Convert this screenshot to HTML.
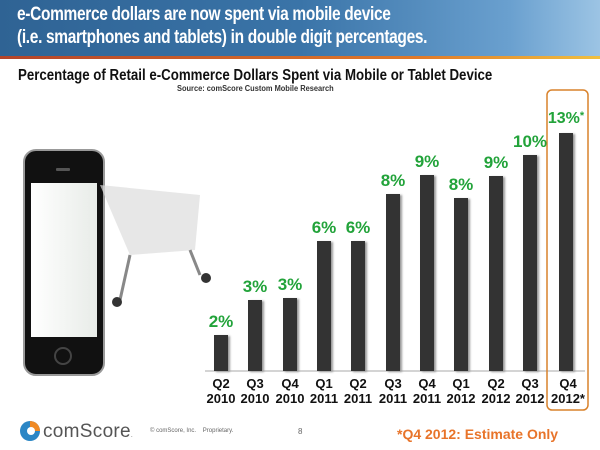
<!DOCTYPE html>
<html><head><meta charset="utf-8"><style>
body{margin:0;width:600px;height:450px;overflow:hidden;background:#fff;font-family:"Liberation Sans",sans-serif;position:relative}
.hdr{position:absolute;left:0;top:0;width:600px;height:56px;background:linear-gradient(90deg,#2f6394 0%,#3a74a8 50%,#6aa0cf 85%,#9cc4e4 100%)}
.hdr div{position:absolute;left:17px;color:#fff;font-weight:bold;font-size:19px;letter-spacing:-0.4px;white-space:nowrap;transform:scaleX(0.815);transform-origin:0 0}
.line{position:absolute;left:0;top:56px;width:600px;height:3px;background:linear-gradient(90deg,#b4442a,#e07a2a 70%,#f0c040)}
.bar{position:absolute;width:14px;background:#333;box-shadow:2px 1px 2px #999}
.lbl{position:absolute;width:50px;text-align:center;color:#22a33a;font-weight:bold;font-size:17px}
.xl{position:absolute;top:376px;width:40px;text-align:center;font-weight:bold;font-size:13px;line-height:15px;color:#111}
</style></head><body>
<div class="hdr"><div style="top:4px">e-Commerce dollars are now spent via mobile device</div><div style="top:27px">(i.e. smartphones and tablets) in double digit percentages.</div></div>
<div class="line"></div>
<div style="position:absolute;left:18px;top:67px;font-size:16px;font-weight:bold;color:#111;white-space:nowrap;transform:scaleX(0.83);transform-origin:0 0">Percentage of Retail e-Commerce Dollars Spent via Mobile or Tablet Device</div>
<div style="position:absolute;left:177px;top:84px;font-size:8px;font-weight:bold;color:#333;white-space:nowrap;transform:scaleX(0.93);transform-origin:0 0">Source: comScore Custom Mobile Research</div>
<svg style="position:absolute;left:0;top:0" width="600" height="450">
<defs><linearGradient id="sc" x1="0" x2="1"><stop offset="0" stop-color="#fff"/><stop offset="1" stop-color="#e8ece8"/></linearGradient></defs>
<rect x="24" y="150" width="80" height="225" rx="12" fill="#111" stroke="#999" stroke-width="2"/>
<rect x="31" y="183" width="66" height="154" fill="url(#sc)"/>
<circle cx="63" cy="356" r="8" fill="none" stroke="#444" stroke-width="2"/>
<rect x="56" y="168" width="14" height="3" rx="1" fill="#555"/>
<path d="M100 185 L200 195 L195 250 L130 255 Z" fill="#ddd" opacity=".7"/>
<path d="M130 255 L120 300 M190 250 L200 275" stroke="#888" stroke-width="3"/>
<circle cx="117" cy="302" r="5" fill="#333"/><circle cx="206" cy="278" r="5" fill="#333"/>
<line x1="205" y1="371" x2="585" y2="371" stroke="#aaa"/>
<rect x="547" y="90" width="41" height="320" rx="5" fill="none" stroke="#d9822b" stroke-width="1.5"/>
<circle cx="30" cy="431" r="10" fill="#2b86c5"/><path d="M30 421 A10 10 0 0 1 40 431 L34 431 A4 4 0 0 0 30 427 Z" fill="#f08a24"/><circle cx="31" cy="431" r="4" fill="#fff"/>
</svg>
<div class="bar" style="left:214px;top:335px;height:36px"></div>
<div class="bar" style="left:248px;top:300px;height:71px"></div>
<div class="bar" style="left:283px;top:298px;height:73px"></div>
<div class="bar" style="left:317px;top:241px;height:130px"></div>
<div class="bar" style="left:351px;top:241px;height:130px"></div>
<div class="bar" style="left:386px;top:194px;height:177px"></div>
<div class="bar" style="left:420px;top:175px;height:196px"></div>
<div class="bar" style="left:454px;top:198px;height:173px"></div>
<div class="bar" style="left:489px;top:176px;height:195px"></div>
<div class="bar" style="left:523px;top:155px;height:216px"></div>
<div class="bar" style="left:559px;top:133px;height:238px"></div>
<div class="lbl" style="left:196px;top:312px">2%</div>
<div class="lbl" style="left:230px;top:277px">3%</div>
<div class="lbl" style="left:265px;top:275px">3%</div>
<div class="lbl" style="left:299px;top:218px">6%</div>
<div class="lbl" style="left:333px;top:218px">6%</div>
<div class="lbl" style="left:368px;top:171px">8%</div>
<div class="lbl" style="left:402px;top:152px">9%</div>
<div class="lbl" style="left:436px;top:175px">8%</div>
<div class="lbl" style="left:471px;top:153px">9%</div>
<div class="lbl" style="left:505px;top:132px">10%</div>
<div class="lbl" style="left:541px;top:110px;width:50px;font-size:16px">13%<span style="font-size:11px;vertical-align:top">*</span></div>
<div class="xl" style="left:201px">Q2<br>2010</div>
<div class="xl" style="left:235px">Q3<br>2010</div>
<div class="xl" style="left:270px">Q4<br>2010</div>
<div class="xl" style="left:304px">Q1<br>2011</div>
<div class="xl" style="left:338px">Q2<br>2011</div>
<div class="xl" style="left:373px">Q3<br>2011</div>
<div class="xl" style="left:407px">Q4<br>2011</div>
<div class="xl" style="left:441px">Q1<br>2012</div>
<div class="xl" style="left:476px">Q2<br>2012</div>
<div class="xl" style="left:510px">Q3<br>2012</div>
<div class="xl" style="left:545px;width:46px">Q4<br>2012*</div>
<div style="position:absolute;left:43px;top:421px;font-size:19px;color:#555;letter-spacing:0.3px">comScore<span style="font-size:6px">.</span></div>
<div style="position:absolute;left:150px;top:428px;font-size:6px;color:#666">© comScore, Inc.&nbsp;&nbsp;&nbsp; Proprietary.</div>
<div style="position:absolute;left:298px;top:427px;font-size:8px;color:#666">8</div>
<div style="position:absolute;left:397px;top:426px;font-size:14px;font-weight:bold;color:#e8742a">*Q4 2012: Estimate Only</div>
</body></html>
